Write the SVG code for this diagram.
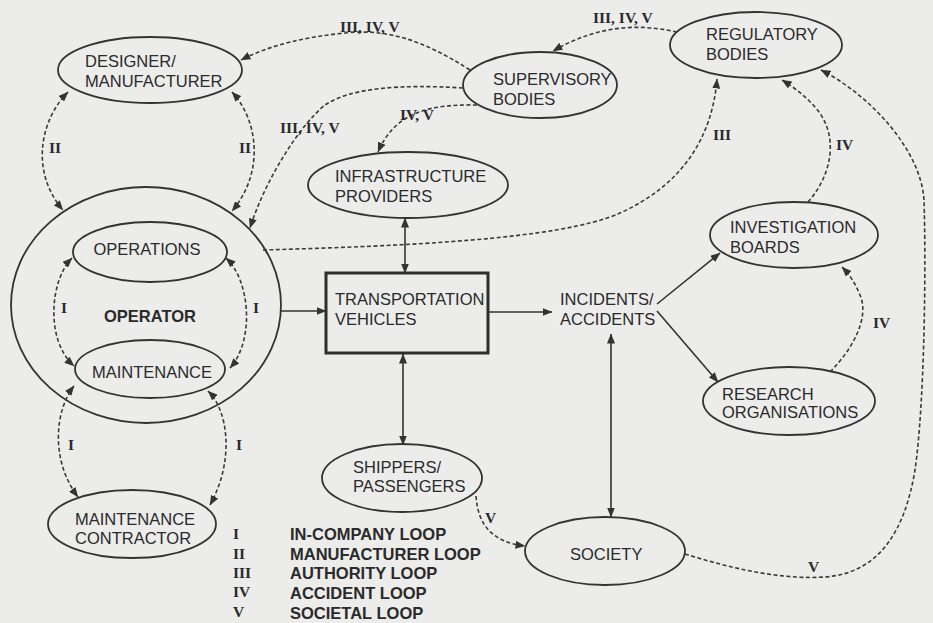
<svg xmlns="http://www.w3.org/2000/svg" width="933" height="623" viewBox="0 0 933 623">
  <defs>
    <marker id="arrow" viewBox="0 0 10 8" refX="9.5" refY="4" markerWidth="10" markerHeight="8" markerUnits="userSpaceOnUse" orient="auto-start-reverse">
      <path d="M0,0 L10,4 L0,8 z" fill="#333"/>
    </marker>
    <style>
      .node ellipse { fill: none; stroke: #333; stroke-width: 1.8; }
      .box { fill: none; stroke: #2e2e2e; stroke-width: 3; }
      .lbl { font-family: "Liberation Sans", Arial, sans-serif; font-size: 16.5px; fill: #2a2a2a; }
      .bold { font-weight: bold; }
      .num { font-family: "Liberation Serif", "Times New Roman", serif; font-size: 15.5px; font-weight: bold; fill: #2a2a2a; }
      .solid { fill: none; stroke: #333; stroke-width: 1.6; }
      .dash { fill: none; stroke: #3a3a3a; stroke-width: 1.6; stroke-dasharray: 4 2.5; }
    </style>
  </defs>

  <rect width="933" height="623" fill="#ececeb"/>

  <!-- nodes -->
  <g id="designer" class="node">
    <ellipse cx="150" cy="70" rx="92" ry="33"/>
    <text class="lbl" x="85" y="67">DESIGNER/</text>
    <text class="lbl" x="85" y="87">MANUFACTURER</text>
  </g>
  <g id="supervisory" class="node">
    <ellipse cx="540" cy="85" rx="77" ry="33"/>
    <text class="lbl" x="493" y="85">SUPERVISORY</text>
    <text class="lbl" x="493" y="105">BODIES</text>
  </g>
  <g id="regulatory" class="node">
    <ellipse cx="756" cy="45" rx="86" ry="33"/>
    <text class="lbl" x="706" y="40">REGULATORY</text>
    <text class="lbl" x="706" y="60">BODIES</text>
  </g>
  <g id="infrastructure" class="node">
    <ellipse cx="408" cy="185" rx="100" ry="33"/>
    <text class="lbl" x="335" y="182">INFRASTRUCTURE</text>
    <text class="lbl" x="335" y="202">PROVIDERS</text>
  </g>
  <g id="operator" class="node">
    <ellipse cx="146" cy="305" rx="135" ry="118"/>
    <text class="lbl bold" x="150" y="322" text-anchor="middle">OPERATOR</text>
  </g>
  <g id="operations" class="node">
    <ellipse cx="150" cy="252" rx="77" ry="30"/>
    <text class="lbl" x="147" y="255" text-anchor="middle">OPERATIONS</text>
  </g>
  <g id="maintenance" class="node">
    <ellipse cx="150" cy="369" rx="75" ry="29"/>
    <text class="lbl" x="152" y="378" text-anchor="middle">MAINTENANCE</text>
  </g>
  <g id="contractor" class="node">
    <ellipse cx="132" cy="524" rx="84" ry="34"/>
    <text class="lbl" x="75" y="525">MAINTENANCE</text>
    <text class="lbl" x="75" y="544">CONTRACTOR</text>
  </g>
  <g id="vehicles" class="node">
    <rect class="box" x="326" y="273" width="162" height="80"/>
    <text class="lbl" x="335" y="305">TRANSPORTATION</text>
    <text class="lbl" x="335" y="325">VEHICLES</text>
  </g>
  <g id="incidents" class="node">
    <text class="lbl" x="560" y="305">INCIDENTS/</text>
    <text class="lbl" x="560" y="325">ACCIDENTS</text>
  </g>
  <g id="investigation" class="node">
    <ellipse cx="794" cy="235" rx="84" ry="33"/>
    <text class="lbl" x="730" y="233">INVESTIGATION</text>
    <text class="lbl" x="730" y="253">BOARDS</text>
  </g>
  <g id="research" class="node">
    <ellipse cx="789" cy="401" rx="86" ry="34"/>
    <text class="lbl" x="722" y="400">RESEARCH</text>
    <text class="lbl" x="722" y="418">ORGANISATIONS</text>
  </g>
  <g id="shippers" class="node">
    <ellipse cx="402" cy="478" rx="80" ry="34"/>
    <text class="lbl" x="353" y="473">SHIPPERS/</text>
    <text class="lbl" x="353" y="492">PASSENGERS</text>
  </g>
  <g id="society" class="node">
    <ellipse cx="605" cy="551" rx="80" ry="34"/>
    <text class="lbl" x="570" y="560">SOCIETY</text>
  </g>

  <!-- connectors -->
  <g id="connectors">
    <!-- solid flows -->
    <path class="solid" d="M281,311 L326,311" marker-end="url(#arrow)"/>
    <path class="solid" d="M405,218 L405,273" marker-start="url(#arrow)" marker-end="url(#arrow)"/>
    <path class="solid" d="M403,354 L403,445" marker-start="url(#arrow)" marker-end="url(#arrow)"/>
    <path class="solid" d="M488,312 L552,312" marker-end="url(#arrow)"/>
    <path class="solid" d="M611,334 L611,517" marker-start="url(#arrow)" marker-end="url(#arrow)"/>
    <path class="solid" d="M657,304 L720,253" marker-end="url(#arrow)"/>
    <path class="solid" d="M657,311 L718,382" marker-end="url(#arrow)"/>

    <!-- loop I -->
    <path class="dash" d="M72,258 C50,280 45,340 74,366" marker-start="url(#arrow)" marker-end="url(#arrow)"/>
    <path class="dash" d="M226,258 C250,280 255,340 230,368" marker-start="url(#arrow)" marker-end="url(#arrow)"/>
    <path class="dash" d="M74,386 C55,410 50,460 78,497" marker-start="url(#arrow)" marker-end="url(#arrow)"/>
    <path class="dash" d="M208,391 C228,410 235,460 210,505" marker-start="url(#arrow)" marker-end="url(#arrow)"/>

    <!-- loop II -->
    <path class="dash" d="M68,92 C40,120 30,172 63,210" marker-start="url(#arrow)" marker-end="url(#arrow)"/>
    <path class="dash" d="M232,92 C258,120 265,172 232,211" marker-start="url(#arrow)" marker-end="url(#arrow)"/>

    <!-- supervisory bodies -->
    <path class="dash" d="M470,70 C420,38 385,29 345,33 C305,37 270,45 241,60" marker-end="url(#arrow)"/>
    <path class="dash" d="M463,88 C400,84 350,88 325,105 C300,125 265,180 250,228" marker-end="url(#arrow)"/>
    <path class="dash" d="M477,105 C430,104 395,112 378,152" marker-end="url(#arrow)"/>

    <!-- regulatory bodies -->
    <path class="dash" d="M677,32 C640,24 600,24 553,51" marker-end="url(#arrow)"/>
    <path class="dash" d="M263,250 C400,246 560,240 620,213 C680,186 712,140 717,79" marker-end="url(#arrow)"/>
    <path class="dash" d="M808,202 C832,175 840,135 815,107 C805,96 795,88 782,80" marker-end="url(#arrow)"/>
    <path class="dash" d="M685,554 C730,568 780,580 825,577 C880,573 905,530 915,470 C925,400 926,260 924,200 C921,150 870,95 821,70" marker-end="url(#arrow)"/>

    <!-- accident and societal loops -->
    <path class="dash" d="M830,372 C852,350 870,318 860,295 C855,283 850,275 842,267" marker-end="url(#arrow)"/>
    <path class="dash" d="M476,496 C478,525 492,542 525,546" marker-end="url(#arrow)"/>

    <!-- loop labels -->
    <text class="num" x="55" y="153" text-anchor="middle">II</text>
    <text class="num" x="245" y="153" text-anchor="middle">II</text>
    <text class="num" x="64" y="313" text-anchor="middle">I</text>
    <text class="num" x="256" y="313" text-anchor="middle">I</text>
    <text class="num" x="71" y="450" text-anchor="middle">I</text>
    <text class="num" x="239" y="450" text-anchor="middle">I</text>
    <text class="num" x="340" y="32">III, IV, V</text>
    <text class="num" x="280" y="133">III, IV, V</text>
    <text class="num" x="400" y="120">IV, V</text>
    <text class="num" x="593" y="23">III, IV, V</text>
    <text class="num" x="713" y="140">III</text>
    <text class="num" x="836" y="150">IV</text>
    <text class="num" x="873" y="328">IV</text>
    <text class="num" x="485" y="523">V</text>
    <text class="num" x="808" y="572">V</text>
  </g>

  <!-- legend -->
  <g id="legend">
    <text class="num" x="233" y="539">I</text>
    <text class="num" x="233" y="559">II</text>
    <text class="num" x="233" y="578">III</text>
    <text class="num" x="233" y="597">IV</text>
    <text class="num" x="233" y="617">V</text>
    <text class="lbl bold" x="290" y="540">IN-COMPANY LOOP</text>
    <text class="lbl bold" x="290" y="560">MANUFACTURER LOOP</text>
    <text class="lbl bold" x="290" y="579">AUTHORITY LOOP</text>
    <text class="lbl bold" x="290" y="599">ACCIDENT LOOP</text>
    <text class="lbl bold" x="290" y="619">SOCIETAL LOOP</text>
  </g>
</svg>
